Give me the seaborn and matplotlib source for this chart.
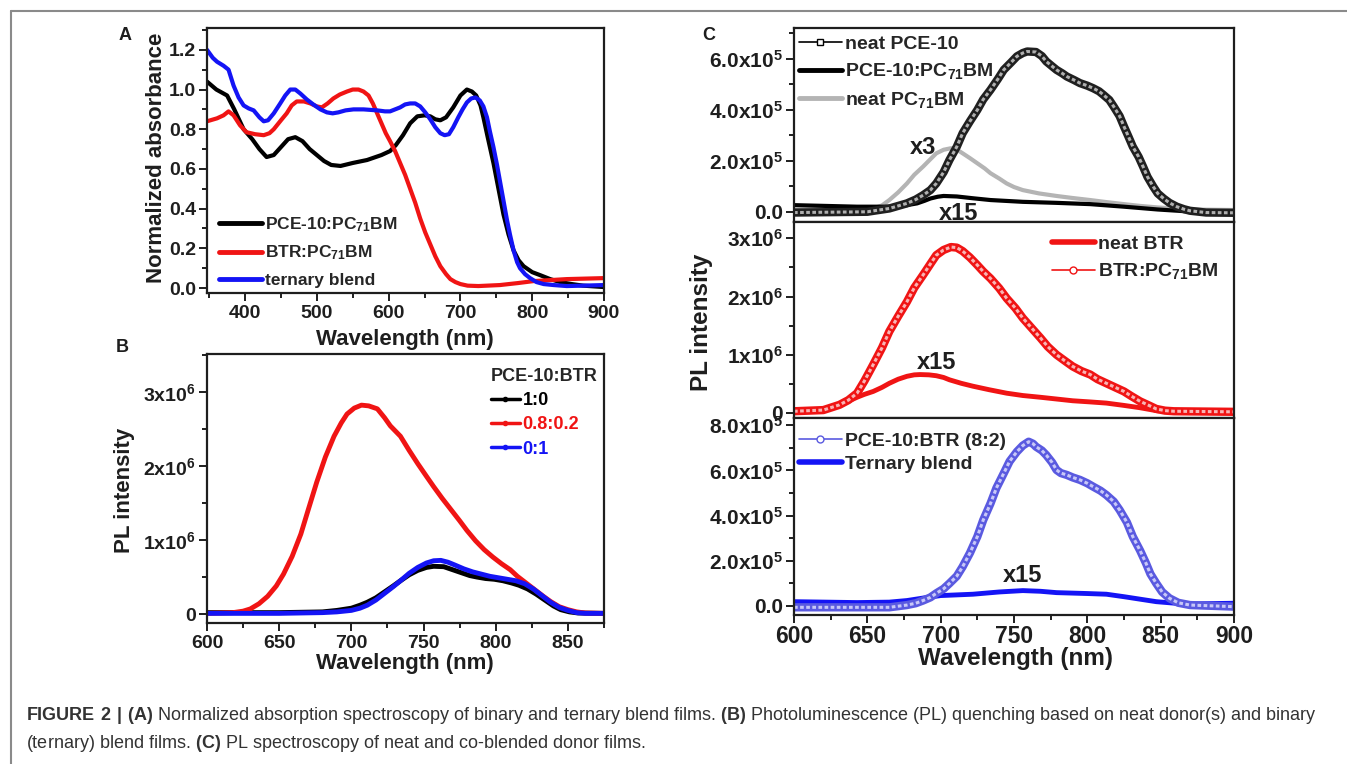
import numpy as np
import matplotlib
matplotlib.use("Agg")
import matplotlib.pyplot as plt
from matplotlib.lines import Line2D
from matplotlib.ticker import MultipleLocator, FixedLocator, FixedFormatter
import seaborn as sns

# PANEL A - normalized absorbance
wl_a_pce = [347, 360, 375, 385, 398, 410, 420, 430, 440, 450, 460, 470, 480, 490, 500, 510, 520, 533,
            550, 570, 590, 602, 610, 620, 630, 640, 650, 658, 665, 672, 680, 690, 700, 709, 716, 722,
            728, 732, 738, 746, 753, 760, 767, 774, 781, 788, 800, 811, 825, 839, 855, 871, 900]
abs_a_pce = [1.04, 1.00, 0.97, 0.90, 0.80, 0.75, 0.70, 0.66, 0.67, 0.71, 0.75, 0.76, 0.74, 0.70, 0.67,
             0.64, 0.62, 0.615, 0.63, 0.645, 0.67, 0.69, 0.72, 0.77, 0.83, 0.865, 0.87, 0.865, 0.85,
             0.845, 0.86, 0.91, 0.97, 1.0, 0.99, 0.97, 0.92, 0.86, 0.76, 0.63, 0.50, 0.37, 0.27, 0.19,
             0.14, 0.11, 0.08, 0.065, 0.045, 0.03, 0.02, 0.012, 0.005]

wl_a_btr = [347, 361, 370, 377, 384, 393, 402, 414, 426, 434, 440, 450, 458, 465, 472, 482, 491, 500,
            507, 515, 523, 532, 542, 550, 558, 565, 572, 578, 584, 590, 596, 602, 609, 616, 623, 630,
            637, 644, 651, 658, 665, 672, 680, 686, 693, 700, 710, 725, 755, 780, 802, 848, 900]
abs_a_btr = [0.84, 0.855, 0.87, 0.89, 0.87, 0.82, 0.785, 0.775, 0.77, 0.78, 0.80, 0.845, 0.88, 0.92,
             0.94, 0.94, 0.93, 0.915, 0.91, 0.93, 0.955, 0.975, 0.99, 1.0, 1.0, 0.99, 0.97, 0.93, 0.88,
             0.83, 0.78, 0.74, 0.69, 0.63, 0.57, 0.50, 0.43, 0.35, 0.28, 0.22, 0.16, 0.11, 0.07, 0.045,
             0.03, 0.02, 0.012, 0.01, 0.015, 0.025, 0.035, 0.045, 0.05]

wl_a_ter = [347, 355, 361, 370, 377, 384, 391, 398, 405, 412, 420, 426, 432, 440, 449, 456, 463, 470,
            477, 486, 495, 505, 514, 522, 530, 540, 551, 565, 584, 595, 602, 609, 616, 623, 630, 637,
            644, 651, 658, 665, 672, 678, 684, 690, 697, 703, 709, 715, 721, 727, 732, 737, 741, 746,
            751, 755, 760, 765, 769, 774, 779, 783, 790, 797, 806, 816, 830, 848, 870, 900]
abs_a_ter = [1.20, 1.16, 1.14, 1.12, 1.10, 1.02, 0.96, 0.92, 0.905, 0.895, 0.86, 0.84, 0.845, 0.88,
             0.93, 0.97, 1.0, 1.0, 0.98, 0.95, 0.925, 0.90, 0.885, 0.88, 0.885, 0.895, 0.90, 0.90,
             0.895, 0.89, 0.89, 0.90, 0.91, 0.925, 0.93, 0.93, 0.915, 0.885, 0.85, 0.81, 0.78, 0.77,
             0.775, 0.81, 0.86, 0.90, 0.935, 0.955, 0.96, 0.945, 0.915, 0.86, 0.79, 0.71, 0.62, 0.54,
             0.44, 0.34, 0.27, 0.19, 0.13, 0.10, 0.07, 0.05, 0.03, 0.02, 0.015, 0.01, 0.012, 0.015]

# PANEL B - PL quenching (x1e6)
wl_b_red = [600, 610, 618, 625, 630, 636, 642, 648, 653, 659, 665, 670, 676, 682, 688, 693, 697, 702,
            707, 712, 718, 723, 727, 734, 740, 746, 752, 757, 763, 769, 775, 780, 786, 792, 798, 804,
            810, 815, 821, 827, 833, 838, 844, 850, 856, 862, 875]
pl_b_red = [0.01, 0.015, 0.02, 0.04, 0.07, 0.14, 0.24, 0.38, 0.54, 0.78, 1.08, 1.40, 1.78, 2.12, 2.40,
            2.58, 2.70, 2.78, 2.82, 2.81, 2.77, 2.65, 2.54, 2.40, 2.21, 2.03, 1.86, 1.72, 1.56, 1.41,
            1.26, 1.13, 0.99, 0.87, 0.77, 0.68, 0.60, 0.51, 0.42, 0.33, 0.24, 0.17, 0.10, 0.06, 0.03,
            0.015, 0.01]

wl_b_black = [600, 650, 680, 690, 700, 706, 711, 717, 723, 729, 734, 740, 746, 752, 757, 764, 770, 776,
              782, 787, 793, 799, 805, 811, 816, 822, 828, 834, 840, 845, 851, 857, 875]
pl_b_black = [0.02, 0.02, 0.03, 0.05, 0.08, 0.12, 0.16, 0.22, 0.30, 0.38, 0.45, 0.53, 0.59, 0.63, 0.645,
              0.64, 0.60, 0.56, 0.52, 0.50, 0.48, 0.47, 0.45, 0.42, 0.39, 0.34, 0.27, 0.19, 0.11, 0.06,
              0.03, 0.015, 0.01]

wl_b_blue = [600, 650, 680, 690, 700, 706, 711, 717, 723, 729, 734, 740, 746, 752, 757, 762, 767, 772,
             778, 784, 790, 796, 802, 808, 814, 820, 826, 832, 838, 844, 850, 856, 862, 875]
pl_b_blue = [0.01, 0.01, 0.02, 0.03, 0.05, 0.08, 0.12, 0.19, 0.28, 0.37, 0.45, 0.55, 0.63, 0.69, 0.72,
             0.725, 0.70, 0.66, 0.61, 0.57, 0.54, 0.51, 0.49, 0.47, 0.45, 0.41, 0.34, 0.25, 0.16, 0.09,
             0.05, 0.02, 0.01, 0.01]

# PANEL C top (x1e5)
wl_c_pce = [600, 650, 665, 677, 683, 688, 693, 697, 702, 706, 711, 715, 720, 725, 729, 734, 739, 743,
            748, 752, 756, 759, 765, 769, 772, 776, 779, 783, 786, 791, 795, 800, 804, 808, 811, 815,
            818, 822, 825, 828, 831, 835, 838, 841, 845, 848, 852, 856, 861, 866, 870, 881, 900]
pl_c_pce = [-0.03, 0.0, 0.13, 0.33, 0.48, 0.65, 0.85, 1.11, 1.55, 2.03, 2.55, 3.08, 3.55, 3.99, 4.40,
            4.78, 5.20, 5.56, 5.85, 6.09, 6.22, 6.28, 6.26, 6.10, 5.89, 5.70, 5.56, 5.42, 5.30, 5.16,
            5.04, 4.94, 4.84, 4.72, 4.58, 4.38, 4.12, 3.75, 3.34, 2.95, 2.55, 2.15, 1.77, 1.37, 0.98,
            0.72, 0.52, 0.35, 0.20, 0.10, 0.04, -0.03, -0.04]

wl_c_pce_pcbm = [600, 643, 665, 677, 684, 689, 693, 698, 702, 711, 722, 734, 756, 779, 802, 825, 848, 870, 900]
pl_c_pce_pcbm = [0.26, 0.20, 0.20, 0.26, 0.33, 0.43, 0.52, 0.59, 0.62, 0.60, 0.53, 0.46, 0.39, 0.35,
                 0.30, 0.20, 0.09, 0.01, -0.03]

wl_c_pcbm = [600, 654, 660, 665, 671, 677, 682, 688, 693, 697, 702, 707, 711, 715, 720, 725, 730, 734,
             740, 745, 750, 756, 767, 779, 790, 802, 813, 825, 836, 848, 870, 900]
pl_c_pcbm = [0.07, 0.13, 0.25, 0.46, 0.76, 1.11, 1.45, 1.77, 2.06, 2.29, 2.43, 2.49, 2.44, 2.29, 2.10,
             1.90, 1.70, 1.51, 1.30, 1.11, 0.97, 0.85, 0.72, 0.62, 0.54, 0.46, 0.38, 0.30, 0.23, 0.17,
             0.09, 0.07]

# PANEL C middle (x1e6)
wl_c_btr_pcbm = [600, 620, 631, 637, 643, 648, 654, 660, 665, 671, 677, 682, 688, 693, 697, 702, 707,
                 711, 715, 720, 725, 729, 734, 740, 745, 751, 756, 762, 768, 773, 779, 785, 790, 796,
                 802, 807, 813, 819, 825, 830, 836, 842, 847, 853, 859, 900]
pl_c_btr_pcbm = [0.03, 0.05, 0.14, 0.22, 0.34, 0.55, 0.83, 1.12, 1.40, 1.66, 1.91, 2.15, 2.37, 2.56,
                 2.71, 2.80, 2.85, 2.84, 2.78, 2.67, 2.54, 2.43, 2.31, 2.14, 1.97, 1.80, 1.63, 1.46,
                 1.29, 1.14, 1.00, 0.89, 0.80, 0.72, 0.66, 0.58, 0.51, 0.44, 0.37, 0.29, 0.20, 0.13,
                 0.07, 0.04, 0.03, 0.02]

wl_c_btr = [600, 620, 631, 637, 643, 648, 654, 660, 665, 671, 677, 682, 686, 692, 697, 702, 706, 714,
            722, 733, 745, 756, 768, 779, 790, 802, 813, 825, 836, 847, 859, 870, 900]
pl_c_btr = [0.03, 0.05, 0.13, 0.20, 0.27, 0.32, 0.37, 0.44, 0.51, 0.58, 0.63, 0.655, 0.66, 0.655, 0.64,
            0.61, 0.57, 0.51, 0.46, 0.40, 0.34, 0.30, 0.27, 0.24, 0.21, 0.19, 0.17, 0.13, 0.09, 0.04,
            0.02, 0.02, 0.02]

# PANEL C bottom (x1e5)
wl_c_82 = [600, 665, 677, 683, 688, 693, 697, 702, 706, 711, 715, 720, 725, 729, 734, 738, 743, 747,
           752, 756, 760, 763, 765, 769, 772, 776, 779, 782, 786, 790, 795, 800, 804, 809, 813, 818,
           822, 827, 831, 836, 840, 843, 847, 851, 856, 862, 870, 900]
pl_c_82 = [-0.06, -0.06, 0.04, 0.12, 0.24, 0.38, 0.56, 0.76, 1.00, 1.32, 1.74, 2.35, 3.07, 3.80, 4.54,
           5.22, 5.87, 6.40, 6.83, 7.10, 7.27, 7.18, 7.05, 6.88, 6.68, 6.35, 6.02, 5.88, 5.80, 5.69,
           5.58, 5.43, 5.28, 5.10, 4.91, 4.62, 4.25, 3.70, 3.07, 2.45, 1.89, 1.42, 1.00, 0.62, 0.34,
           0.14, 0.04, -0.03]

wl_c_ter = [600, 643, 665, 677, 688, 700, 722, 740, 756, 768, 779, 800, 813, 825, 836, 847, 860, 870, 900]
pl_c_ter = [0.19, 0.15, 0.17, 0.24, 0.35, 0.46, 0.52, 0.62, 0.68, 0.65, 0.59, 0.55, 0.52, 0.41, 0.30,
            0.19, 0.12, 0.09, 0.12]

RED = "#f01414"
BLUE = "#1414f5"
BLUE_LIGHT = "#5a5ae0"
GRAY = "#b4b4b4"
INK = "#1e1e1e"

sns.set_theme(style="ticks")
plt.rcParams["font.family"] = ["Liberation Sans", "DejaVu Sans"]
plt.rcParams["font.weight"] = "bold"
plt.rcParams["mathtext.fontset"] = "custom"
plt.rcParams["mathtext.bf"] = "Liberation Sans:bold"
plt.rcParams["mathtext.rm"] = "Liberation Sans"
plt.rcParams["mathtext.default"] = "bf"

W, H = 1347, 764
fig = plt.figure(figsize=(W / 100, H / 100), dpi=100)


def fx(px):
    return px / W


def fy(py):
    return 1 - py / H


def box(l, t, r, b):
    return [l / W, 1 - b / H, (r - l) / W, (b - t) / H]


ax_a = fig.add_axes(box(207, 28, 604, 293))
ax_b = fig.add_axes(box(207, 354, 604, 623))
ax_c1 = fig.add_axes(box(794, 28, 1234, 222))
ax_c2 = fig.add_axes(box(794, 222, 1234, 418))
ax_c3 = fig.add_axes(box(794, 418, 1234, 615))


def style(ax, xsize, ysize, xpad=3):
    for s in ax.spines.values():
        s.set_linewidth(1.6)
        s.set_color(INK)
    ax.tick_params(which="both", direction="out", width=1.4, colors=INK)
    ax.tick_params(which="major", length=6)
    ax.tick_params(which="minor", length=3.5)
    ax.tick_params(axis="x", labelsize=xsize, pad=xpad)
    ax.tick_params(axis="y", labelsize=ysize, pad=2)
    ax.set_xlabel("")
    ax.set_ylabel("")


def line(ax, x, y, color, lw):
    sns.lineplot(x=np.array(x), y=np.array(y), ax=ax, color=color, lw=lw,
                 sort=False, estimator=None, legend=False)


def band(ax, x, y, color, inner):
    # dense open markers in the original look like a hollow band
    sns.lineplot(x=np.array(x), y=np.array(y), ax=ax, color=color, lw=6,
                 sort=False, estimator=None, legend=False)
    sns.lineplot(x=np.array(x), y=np.array(y), ax=ax, color=inner, lw=2.2,
                 sort=False, estimator=None, legend=False, linestyle=(0, (1.2, 0.8)))


def legend(ax, handles, labels, left, top, size, spacing, hl, **kw):
    return ax.legend(handles, labels, loc="upper left", bbox_to_anchor=(fx(left), fy(top)),
                     bbox_transform=fig.transFigure, frameon=False, handlelength=hl,
                     handletextpad=0.15, labelspacing=spacing, borderpad=0, borderaxespad=0,
                     prop={"weight": "bold", "size": size}, **kw)


# ---- panel A
line(ax_a, wl_a_pce, abs_a_pce, "black", 3)
line(ax_a, wl_a_btr, abs_a_btr, RED, 3)
line(ax_a, wl_a_ter, abs_a_ter, BLUE, 3)
ax_a.set_xlim(347, 900)
ax_a.set_ylim(-0.025, 1.31)
ax_a.xaxis.set_major_locator(MultipleLocator(100))
ax_a.xaxis.set_minor_locator(MultipleLocator(50))
ax_a.yaxis.set_major_locator(FixedLocator([0, 0.2, 0.4, 0.6, 0.8, 1.0, 1.2]))
ax_a.yaxis.set_major_formatter(FixedFormatter(["0.0", "0.2", "0.4", "0.6", "0.8", "1.0", "1.2"]))
ax_a.yaxis.set_minor_locator(MultipleLocator(0.1))
style(ax_a, 14, 14)
leg_a = [Line2D([], [], color="black", lw=3.5), Line2D([], [], color=RED, lw=3.5),
         Line2D([], [], color=BLUE, lw=3.5)]
legend(ax_a, leg_a, [r"PCE-10:PC$_{71}$BM", r"BTR:PC$_{71}$BM", "ternary blend"],
       219, 215, 12.5, 0.58, 2.5)

# ---- panel B
line(ax_b, wl_b_black, np.array(pl_b_black) * 1e6, "black", 3.5)
line(ax_b, wl_b_red, np.array(pl_b_red) * 1e6, RED, 3.5)
line(ax_b, wl_b_blue, np.array(pl_b_blue) * 1e6, BLUE, 3.5)
ax_b.set_xlim(600, 875)
ax_b.set_ylim(-0.12e6, 3.51e6)
ax_b.xaxis.set_major_locator(MultipleLocator(50))
ax_b.xaxis.set_minor_locator(MultipleLocator(25))
ax_b.yaxis.set_major_locator(FixedLocator([0, 1e6, 2e6, 3e6]))
ax_b.yaxis.set_major_formatter(FixedFormatter(["0", "1x10$^6$", "2x10$^6$", "3x10$^6$"]))
ax_b.yaxis.set_minor_locator(MultipleLocator(0.5e6))
style(ax_b, 14, 14)
leg_b = [Line2D([], [], color=c, lw=2.5, marker="o", ms=3) for c in ["black", RED, BLUE]]
legend(ax_b, leg_b, ["1:0", "0.8:0.2", "0:1"], 491, 368, 13, 0.4, 1.6,
       title="PCE-10:BTR", alignment="left", labelcolor=["black", RED, BLUE],
       title_fontproperties={"weight": "bold", "size": 13})

# ---- panel C top
line(ax_c1, wl_c_pcbm, np.array(pl_c_pcbm) * 1e5, GRAY, 3)
line(ax_c1, wl_c_pce_pcbm, np.array(pl_c_pce_pcbm) * 1e5, "black", 3)
band(ax_c1, wl_c_pce, np.array(pl_c_pce) * 1e5, "#202020", "#b0b0b0")
ax_c1.set_ylim(-0.4e5, 7.2e5)
ax_c1.yaxis.set_major_locator(FixedLocator([0, 2e5, 4e5, 6e5]))
ax_c1.yaxis.set_major_formatter(FixedFormatter(["0.0", "2.0x10$^5$", "4.0x10$^5$", "6.0x10$^5$"]))
ax_c1.yaxis.set_minor_locator(MultipleLocator(1e5))
ax_c1.text(688, 2.5e5, "x3", ha="center", va="center", fontsize=17, color=INK)
ax_c1.text(712, -0.05e5, "x15", ha="center", va="center", fontsize=17, color=INK)
leg_c1 = [Line2D([], [], color="black", lw=1.2, marker="s", ms=5, mfc="white"),
          Line2D([], [], color="black", lw=3.5), Line2D([], [], color=GRAY, lw=3.5)]
legend(ax_c1, leg_c1, ["neat PCE-10", r"PCE-10:PC$_{71}$BM", r"neat PC$_{71}$BM"],
       799, 35, 14, 0.45, 2.2)

# ---- panel C middle
line(ax_c2, wl_c_btr, np.array(pl_c_btr) * 1e6, RED, 3.5)
band(ax_c2, wl_c_btr_pcbm, np.array(pl_c_btr_pcbm) * 1e6, RED, "#f8b4b4")
ax_c2.set_ylim(-0.086e6, 3.28e6)
ax_c2.yaxis.set_major_locator(FixedLocator([0, 1e6, 2e6, 3e6]))
ax_c2.yaxis.set_major_formatter(FixedFormatter(["0", "1x10$^6$", "2x10$^6$", "3x10$^6$"]))
ax_c2.yaxis.set_minor_locator(MultipleLocator(0.5e6))
ax_c2.text(697, 0.87e6, "x15", ha="center", va="center", fontsize=17, color=INK)
leg_c2 = [Line2D([], [], color=RED, lw=4), Line2D([], [], color=RED, lw=1.2, marker="o", ms=5, mfc="white")]
legend(ax_c2, leg_c2, ["neat BTR", r"BTR:PC$_{71}$BM"], 1052, 235, 14, 0.45, 2.2)

# ---- panel C bottom
line(ax_c3, wl_c_ter, np.array(pl_c_ter) * 1e5, BLUE, 3.5)
band(ax_c3, wl_c_82, np.array(pl_c_82) * 1e5, BLUE_LIGHT, "#c8c8f8")
ax_c3.set_ylim(-0.4e5, 8.32e5)
ax_c3.yaxis.set_major_locator(FixedLocator([0, 2e5, 4e5, 6e5, 8e5]))
ax_c3.yaxis.set_major_formatter(FixedFormatter(["0.0", "2.0x10$^5$", "4.0x10$^5$", "6.0x10$^5$", "8.0x10$^5$"]))
ax_c3.yaxis.set_minor_locator(MultipleLocator(1e5))
ax_c3.text(756, 1.37e5, "x15", ha="center", va="center", fontsize=17, color=INK)
leg_c3 = [Line2D([], [], color=BLUE_LIGHT, lw=1.2, marker="o", ms=5, mfc="white"),
          Line2D([], [], color=BLUE, lw=4)]
legend(ax_c3, leg_c3, ["PCE-10:BTR (8:2)", "Ternary blend"], 799, 432, 14, 0.3, 2.2)

for ax in (ax_c1, ax_c2, ax_c3):
    ax.set_xlim(600, 900)
    ax.xaxis.set_major_locator(MultipleLocator(50))
    ax.xaxis.set_minor_locator(MultipleLocator(25))
    style(ax, 16.5, 15, xpad=1.5)
ax_c1.tick_params(axis="x", labelbottom=False)
ax_c2.tick_params(axis="x", labelbottom=False)

# axis titles
fig.text(fx(157), fy(158), "Normalized absorbance", rotation=90, ha="center", va="center", fontsize=16, color=INK)
fig.text(fx(405), fy(340), "Wavelength (nm)", ha="center", va="center", fontsize=16, color=INK)
fig.text(fx(125), fy(490), "PL intensity", rotation=90, ha="center", va="center", fontsize=16, color=INK)
fig.text(fx(405), fy(663), "Wavelength (nm)", ha="center", va="center", fontsize=16, color=INK)
fig.text(fx(702), fy(322), "PL intensity", rotation=90, ha="center", va="center", fontsize=17.5, color=INK)
fig.text(fx(1015), fy(659), "Wavelength (nm)", ha="center", va="center", fontsize=17.5, color=INK)

# panel letters
fig.text(fx(125), fy(35), "A", ha="center", va="center", fontsize=13, color=INK)
fig.text(fx(122), fy(348), "B", ha="center", va="center", fontsize=13, color=INK)
fig.text(fx(709), fy(35), "C", ha="center", va="center", fontsize=13, color=INK)

# frame
fig.add_artist(Line2D([fx(11), fx(11)], [fy(11), 0], transform=fig.transFigure, color="#8a8a8a", lw=1.5))
fig.add_artist(Line2D([fx(11), 1], [fy(11), fy(11)], transform=fig.transFigure, color="#8a8a8a", lw=1.5))

# caption, sized so the first line spans the same width as in the figure
cap1 = fig.text(fx(26), fy(716),
                r"$\mathbf{FIGURE\ 2\ |\ (A)}$ Normalized absorption spectroscopy of binary and ternary blend films. "
                r"$\mathbf{(B)}$ Photoluminescence (PL) quenching based on neat donor(s) and binary",
                ha="left", va="center", fontsize=11.5, fontweight="normal", color="#333333")
cap2 = fig.text(fx(26), fy(743),
                r"(ternary) blend films. $\mathbf{(C)}$ PL spectroscopy of neat and co-blended donor films.",
                ha="left", va="center", fontsize=11.5, fontweight="normal", color="#333333")
renderer = fig.canvas.get_renderer()
width = cap1.get_window_extent(renderer).width
size = 11.5 * (1318 - 26) / width
cap1.set_fontsize(size)
cap2.set_fontsize(size)

fig.savefig("out.png", dpi=100, facecolor="white")
